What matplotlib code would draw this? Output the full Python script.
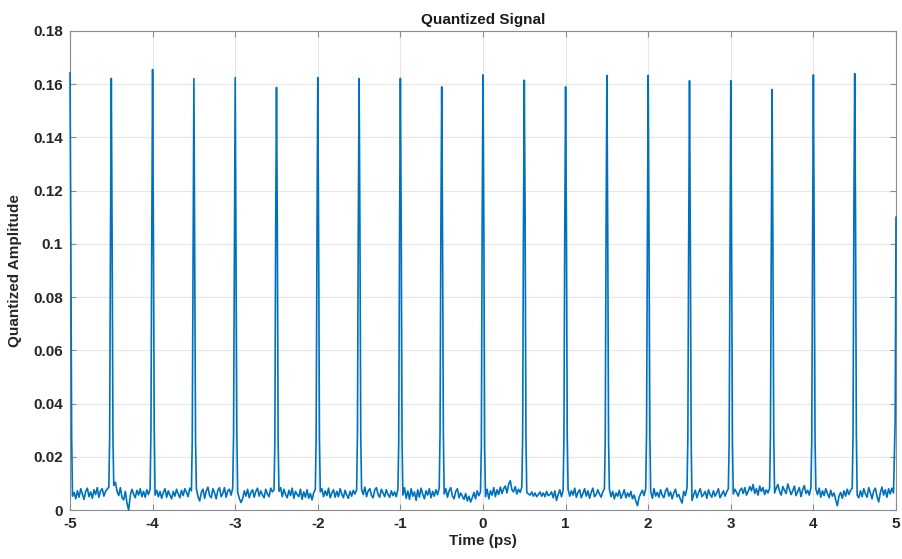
import numpy as np
import matplotlib
matplotlib.use("Agg")
import matplotlib.pyplot as plt

plt.rcParams['font.family'] = ['Liberation Sans', 'DejaVu Sans']
plt.rcParams['axes.unicode_minus'] = False

# Pulse centres (ps) and their sample values
pulse_centres = [-5.0, -4.5, -4.0, -3.5, -3.0, -2.5, -2.0, -1.5, -1.0, -0.5,
                 0.0, 0.5, 1.0, 1.5, 2.0, 2.5, 3.0, 3.5, 4.0, 4.5, 5.0]
peaks = [0.1642, 0.1622, 0.1655, 0.1621, 0.1625, 0.1588, 0.1625, 0.1621, 0.1622, 0.1590,
         0.1635, 0.1615, 0.1590, 0.1633, 0.1633, 0.1613, 0.1613, 0.1580, 0.1635, 0.1640, 0.1100]
steps = [0.102, 0.102, 0.103, 0.098, 0.098, 0.106, 0.102, 0.106, 0.106, 0.105,
         0.109, 0.109, 0.106, 0.105, 0.101, 0.101, 0.098, 0.098, 0.101, 0.111, 0.034]
shoulders = [0.028, 0.027, 0.030, 0.026, 0.028, 0.025, 0.027, 0.028, 0.026, 0.029,
             0.024, 0.027, 0.028, 0.026, 0.029, 0.027, 0.025, 0.028, 0.026, 0.029, 0.034]

# Noise floor between pulses (units of 1e-4), sampled every 0.02 ps from c+0.03 to c+0.47
noise_gaps = [
    [52, 66, 42, 72, 48, 80, 60, 40, 70, 82, 50, 68, 44, 76, 58, 84, 48, 72, 80, 52, 70, 78, 86],
    [92, 104, 70, 54, 84, 46, 38, 70, 26, 0, 54, 78, 60, 46, 74, 56, 80, 50, 70, 48, 76, 58, 78],
    [56, 74, 50, 70, 44, 66, 80, 48, 72, 56, 42, 70, 52, 78, 60, 46, 74, 54, 80, 66, 50, 82, 72],
    [80, 50, 34, 66, 78, 44, 72, 86, 54, 46, 80, 64, 42, 74, 84, 50, 62, 84, 48, 72, 78, 56, 82],
    [66, 44, 28, 42, 72, 52, 78, 46, 66, 76, 48, 70, 82, 52, 72, 56, 46, 78, 60, 50, 82, 68, 76],
    [70, 84, 50, 78, 58, 46, 74, 54, 82, 44, 70, 58, 50, 78, 40, 68, 48, 76, 44, 62, 38, 64, 78],
    [68, 80, 50, 72, 54, 82, 46, 64, 76, 48, 70, 50, 80, 60, 46, 74, 56, 44, 70, 52, 74, 60, 76],
    [78, 58, 86, 50, 72, 80, 54, 46, 76, 84, 58, 48, 78, 64, 50, 76, 58, 48, 72, 54, 68, 50, 78],
    [56, 84, 44, 72, 40, 80, 52, 68, 36, 76, 48, 82, 60, 42, 72, 56, 80, 46, 70, 52, 76, 58, 82],
    [60, 80, 48, 72, 84, 52, 42, 70, 80, 46, 64, 52, 40, 62, 34, 52, 30, 46, 66, 42, 72, 54, 68],
    [50, 78, 42, 72, 56, 84, 50, 76, 58, 86, 62, 80, 90, 64, 96, 110, 76, 68, 88, 60, 78, 66, 86],
    [66, 60, 56, 68, 52, 64, 50, 58, 68, 52, 64, 50, 70, 54, 58, 68, 46, 72, 36, 58, 76, 50, 74],
    [78, 52, 72, 56, 82, 48, 66, 76, 46, 62, 80, 52, 72, 44, 66, 82, 50, 58, 76, 60, 48, 68, 80],
    [78, 50, 70, 42, 64, 52, 74, 44, 58, 76, 46, 64, 50, 70, 42, 56, 34, 16, 48, 62, 74, 54, 80],
    [70, 44, 80, 52, 66, 48, 76, 56, 46, 72, 82, 52, 68, 42, 64, 78, 50, 58, 40, 26, 70, 54, 84],
    [36, 56, 74, 46, 66, 80, 50, 58, 70, 44, 76, 58, 48, 72, 52, 64, 80, 46, 58, 72, 52, 68, 80],
    [60, 78, 66, 52, 74, 82, 62, 84, 56, 70, 88, 72, 96, 62, 80, 56, 90, 70, 84, 58, 76, 64, 82],
    [64, 82, 96, 70, 56, 88, 74, 62, 98, 78, 58, 72, 90, 54, 70, 84, 50, 76, 92, 62, 74, 56, 84],
    [78, 58, 82, 48, 72, 54, 80, 62, 46, 74, 52, 64, 38, 16, 52, 66, 44, 72, 52, 78, 58, 74, 82],
    [56, 46, 72, 50, 80, 60, 48, 84, 64, 42, 72, 82, 52, 30, 64, 86, 56, 76, 48, 80, 60, 82, 64],
]

x_ticks = [-5, -4, -3, -2, -1, 0, 1, 2, 3, 4, 5]
y_ticks = [0, 0.02, 0.04, 0.06, 0.08, 0.10, 0.12, 0.14, 0.16, 0.18]
y_tick_labels = ['0', '0.02', '0.04', '0.06', '0.08', '0.1', '0.12', '0.14', '0.16', '0.18']

# Assemble the time series
t, v = [], []
n = len(pulse_centres)
for i, c in enumerate(pulse_centres):
    pts = [(c - 0.02, shoulders[i]), (c - 0.01, steps[i]), (c, peaks[i]),
           (c + 0.01, steps[i]), (c + 0.02, shoulders[i])]
    if i == n - 1:
        pts = [(c - 0.01, shoulders[i]), (c, peaks[i])]
    for tt, vv in pts:
        if -5.0 - 1e-9 <= tt <= 5.0 + 1e-9:
            t.append(tt)
            v.append(vv)
    if i < n - 1:
        for k, val in enumerate(noise_gaps[i]):
            t.append(c + 0.03 + 0.02 * k)
            v.append(val * 1e-4)

fig = plt.figure(figsize=(9.02, 5.59), dpi=100)
ax = fig.add_axes([70 / 902, 1 - 510 / 559, (896 - 70) / 902, (510 - 31) / 559])
ax.plot(t, v, color='#0072BD', linewidth=1.2, clip_on=False, zorder=3)

ax.set_xlim(-5, 5)
ax.set_ylim(0, 0.18)
ax.set_xticks(x_ticks)
ax.set_xticklabels([str(x) for x in x_ticks])
ax.set_yticks(y_ticks)
ax.set_yticklabels(y_tick_labels)
ax.grid(True, color='#e6e6e6', linewidth=0.8)
ax.set_axisbelow(True)
for s in ax.spines.values():
    s.set_color('#8c8c8c')
    s.set_linewidth(0.8)
    s.set_zorder(2)
ax.tick_params(direction='in', length=4, color='#8c8c8c', top=True, right=True,
               labelsize=11, labelcolor='#262626', pad=5)
for lbl in ax.get_xticklabels() + ax.get_yticklabels():
    lbl.set_fontweight('bold')

ax.set_title('Quantized Signal', fontsize=11, fontweight='bold', color='#1a1a1a', pad=5)
ax.set_xlabel('Time (ps)', fontsize=11, fontweight='bold', color='#262626', labelpad=2)
ax.set_ylabel('Quantized Amplitude', fontsize=11, fontweight='bold', color='#262626', labelpad=8)

fig.savefig('out.png', dpi=100)
